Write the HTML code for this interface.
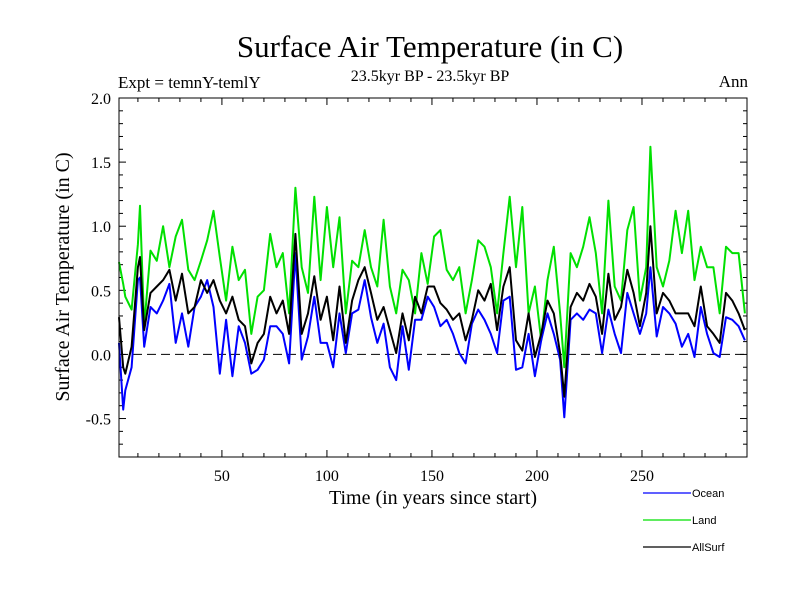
<!DOCTYPE html>
<html><head><meta charset="utf-8"><style>
html,body{margin:0;padding:0;background:#fff;}
svg{display:block;font-family:"Liberation Serif",serif;}
</style></head><body>
<svg id="chart" width="800" height="600" viewBox="0 0 800 600">
<text x="430" y="57" font-size="31" text-anchor="middle">Surface Air Temperature (in C)</text>
<text x="430" y="81" font-size="16" text-anchor="middle">23.5kyr BP - 23.5kyr BP</text>
<text x="118" y="88" font-size="17">Expt = temnY-temlY</text>
<text x="748" y="87" font-size="17" text-anchor="end">Ann</text>
<text x="433" y="504" font-size="20" text-anchor="middle">Time (in years since start)</text>
<text transform="translate(69,277) rotate(-90)" font-size="20" text-anchor="middle">Surface Air Temperature (in C)</text>
<g id="ticks"></g>
<line x1="119" x2="747" y1="0" y2="0" id="zero" stroke="#000" stroke-width="1" stroke-dasharray="9,5"/>
<g id="series"></g>
<rect x="119" y="98" width="628" height="359" fill="none" stroke="#000" stroke-width="1"/>
<g font-family="Liberation Sans, sans-serif" font-size="11">
<g><line x1="643" x2="691" y1="493" y2="493" stroke="#0000ff" stroke-width="1.2"/><text x="692" y="497">Ocean</text></g>
<g><line x1="643" x2="691" y1="520" y2="520" stroke="#00e000" stroke-width="1.2"/><text x="692" y="524">Land</text></g>
<g><line x1="643" x2="691" y1="547" y2="547" stroke="#000" stroke-width="1.2"/><text x="692" y="551">AllSurf</text></g>
</g>
</svg>
<script>
const years=[1,3,4,7,10,11,13,16,19,22,25,28,31,34,37,40,43,46,49,52,55,58,61,64,67,70,73,76,79,82,85,88,91,94,97,100,103,106,109,112,115,118,121,124,127,130,133,136,139,142,145,148,151,154,157,160,163,166,169,172,175,178,181,184,187,190,193,196,199,202,205,208,211,213,216,219,222,225,228,231,234,237,240,243,246,249,252,254,257,260,263,266,269,272,275,278,281,284,287,290,293,296,299];
const land=[0.72,0.55,0.45,0.35,0.86,1.16,0.22,0.81,0.73,1.0,0.68,0.92,1.05,0.66,0.58,0.73,0.89,1.12,0.76,0.42,0.84,0.58,0.66,0.16,0.45,0.5,0.94,0.68,0.79,0.32,1.3,0.68,0.48,1.23,0.58,1.15,0.68,1.07,0.32,0.73,0.68,0.97,0.68,0.53,1.05,0.53,0.32,0.66,0.58,0.32,0.79,0.55,0.92,0.97,0.66,0.58,0.68,0.32,0.58,0.89,0.84,0.68,0.32,0.79,1.23,0.68,1.15,0.32,0.53,0.11,0.58,0.84,0.32,-0.1,0.79,0.68,0.84,1.07,0.79,0.32,1.2,0.53,0.42,0.97,1.15,0.42,0.68,1.62,0.68,0.53,0.73,1.12,0.79,1.12,0.58,0.84,0.68,0.68,0.32,0.84,0.79,0.79,0.32];
const allsurf=[0.29,-0.1,-0.15,0.06,0.68,0.76,0.19,0.48,0.53,0.58,0.66,0.42,0.63,0.32,0.37,0.58,0.48,0.58,0.42,0.32,0.45,0.27,0.22,-0.07,0.09,0.16,0.45,0.32,0.42,0.16,0.94,0.16,0.32,0.61,0.27,0.45,0.11,0.53,0.09,0.42,0.58,0.68,0.48,0.27,0.37,0.19,0.01,0.32,0.11,0.45,0.32,0.53,0.53,0.4,0.35,0.27,0.32,0.11,0.27,0.5,0.42,0.55,0.19,0.53,0.68,0.11,0.03,0.32,-0.02,0.16,0.42,0.32,0.01,-0.33,0.37,0.48,0.42,0.55,0.45,0.16,0.63,0.27,0.37,0.66,0.48,0.22,0.48,1.0,0.32,0.48,0.42,0.32,0.32,0.32,0.22,0.53,0.22,0.16,0.09,0.48,0.42,0.32,0.19];
const ocean=[0.09,-0.43,-0.28,-0.1,0.58,0.6,0.06,0.37,0.32,0.42,0.55,0.09,0.32,0.06,0.37,0.45,0.58,0.37,-0.15,0.27,-0.17,0.22,0.09,-0.15,-0.12,-0.04,0.22,0.22,0.16,-0.07,0.79,-0.04,0.14,0.45,0.09,0.09,-0.1,0.32,0.01,0.32,0.35,0.58,0.29,0.09,0.24,-0.1,-0.2,0.22,-0.12,0.27,0.27,0.45,0.37,0.22,0.27,0.16,0.01,-0.07,0.24,0.35,0.27,0.16,0.01,0.42,0.45,-0.12,-0.1,0.16,-0.17,0.11,0.32,0.16,-0.04,-0.49,0.27,0.32,0.27,0.35,0.32,0.01,0.35,0.16,0.01,0.48,0.32,0.16,0.32,0.68,0.14,0.37,0.32,0.24,0.06,0.16,-0.02,0.37,0.16,0.01,-0.02,0.29,0.27,0.22,0.11];
const xTicks=[50,100,150,200,250];
const yTicks=[-0.5,0.0,0.5,1.0,1.5,2.0];
const X0=119,X1=747,Y0=98,Y1=457,XMIN=1,XMAX=300,YMIN=-0.8,YMAX=2.0;
function sx(v){return X0+(v-XMIN)/(XMAX-XMIN)*(X1-X0);}
function sy(v){return Y1-(v-YMIN)/(YMAX-YMIN)*(Y1-Y0);}
const NS='http://www.w3.org/2000/svg';
const tg=document.getElementById('ticks');
function ln(x1,y1,x2,y2){const l=document.createElementNS(NS,'line');l.setAttribute('x1',x1);l.setAttribute('y1',y1);l.setAttribute('x2',x2);l.setAttribute('y2',y2);l.setAttribute('stroke','#000');tg.appendChild(l);return l;}
for(let v=10;v<300;v+=10){const x=sx(v);const L=(v%50===0)?7:4;ln(x,Y1,x,Y1-L);ln(x,Y0,x,Y0+L);}
for(let i=-7;i<=19;i++){const v=i/10;const y=sy(v);const L=(i%5===0)?7:4;ln(X0,y,X0+L,y);ln(X1,y,X1-L,y);}
xTicks.forEach(v=>{const t=document.createElementNS(NS,'text');t.setAttribute('x',sx(v));t.setAttribute('y',481);t.setAttribute('font-size','16');t.setAttribute('text-anchor','middle');t.textContent=String(v);


tg.appendChild(t);});
yTicks.forEach(v=>{const t=document.createElementNS(NS,'text');t.setAttribute('x',111);t.setAttribute('y',sy(v)+6);t.setAttribute('font-size','16');t.setAttribute('text-anchor','end');t.textContent=v.toFixed(1);


tg.appendChild(t);});
const z=document.getElementById('zero');z.setAttribute('y1',sy(0));z.setAttribute('y2',sy(0));
const sg=document.getElementById('series');
function draw(vals,color,name){const p=document.createElementNS(NS,'polyline');p.setAttribute('points',years.map((yr,i)=>sx(yr).toFixed(1)+','+sy(vals[i]).toFixed(1)).join(' '));p.setAttribute('fill','none');p.setAttribute('stroke',color);p.setAttribute('stroke-width','2');p.setAttribute('stroke-linejoin','round');


sg.appendChild(p);}
draw(land,'#00e000','land-line');
draw(ocean,'#0000ff','ocean-line');
draw(allsurf,'#000000','allsurf-line');
</script>
</body></html>
